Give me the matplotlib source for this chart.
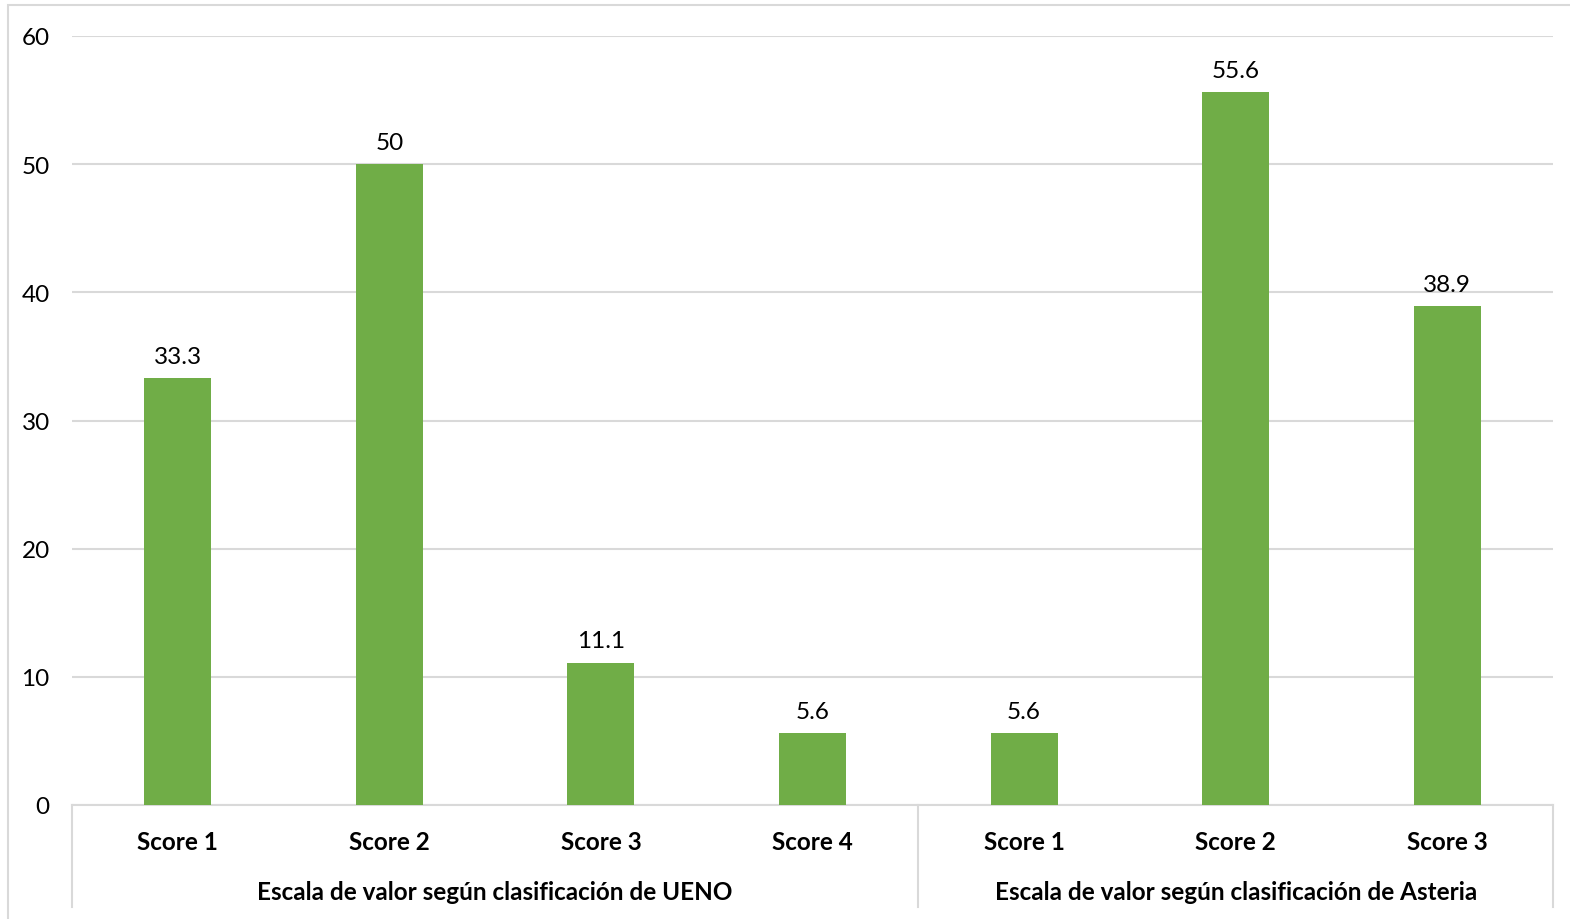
import matplotlib.pyplot as plt
from matplotlib.patches import Rectangle
from matplotlib.lines import Line2D

plt.rcParams['font.family'] = ['Lato', 'DejaVu Sans']

# porcentaje de pacientes por score
grupos = ['Escala de valor según clasificación de UENO',
          'Escala de valor según clasificación de Asteria']
scores_ueno = ['Score 1', 'Score 2', 'Score 3', 'Score 4']
scores_asteria = ['Score 1', 'Score 2', 'Score 3']
valores_ueno = [33.3, 50, 11.1, 5.6]
valores_asteria = [5.6, 55.6, 38.9]

etiquetas = scores_ueno + scores_asteria
valores = valores_ueno + valores_asteria
n = len(valores)
verde = '#70AD47'
gris = '#D9D9D9'
fs = 17.5

W, H = 1570, 920
fig = plt.figure(figsize=(W / 100, H / 100), dpi=100)

# borde del grafico
fig.patches.append(Rectangle((8 / W, -0.01), 1.0, 1 - 6 / H + 0.01,
                             transform=fig.transFigure, fill=False,
                             edgecolor=gris, linewidth=1.5))

ax = fig.add_axes([72 / W, (H - 806) / H, (1553 - 72) / W, (806 - 37) / H])
x = list(range(n))
barras = ax.bar(x, valores, width=0.317, color=verde, zorder=3)

for xi, v in zip(x, valores):
    ax.text(xi, v + 0.9, f'{v:g}', ha='center', va='bottom', fontsize=fs,
            color='#000000')

ax.set_xlim(-0.5, n - 0.5)
ax.set_ylim(0, 60)
ax.set_yticks(range(0, 61, 10))
ax.tick_params(axis='y', length=0, labelsize=fs, pad=16, labelcolor='#000000')
ax.set_xticks([])
ax.grid(axis='y', color=gris, linewidth=1.5, zorder=0)
for s in ['top', 'right', 'left']:
    ax.spines[s].set_visible(False)
ax.spines['bottom'].set_color(gris)
ax.spines['bottom'].set_linewidth(1.5)

# etiquetas de categoria en dos niveles
ty = ax.get_xaxis_transform()
for xi, lab in zip(x, etiquetas):
    ax.text(xi, -0.047, lab, transform=ty, ha='center', va='center',
            fontsize=fs, fontweight='bold')

nu = len(scores_ueno)
ax.text((nu - 1) / 2, -0.112, grupos[0], transform=ty, ha='center',
        va='center', fontsize=fs, fontweight='bold')
ax.text(nu + (len(scores_asteria) - 1) / 2, -0.112, grupos[1], transform=ty,
        ha='center', va='center', fontsize=fs, fontweight='bold')

for xd in [-0.5, nu - 0.5, n - 0.5]:
    ax.add_line(Line2D([xd, xd], [0, -0.133], transform=ty, color=gris,
                       linewidth=1.5, clip_on=False))

fig.savefig('out.png', dpi=100, facecolor='white')
